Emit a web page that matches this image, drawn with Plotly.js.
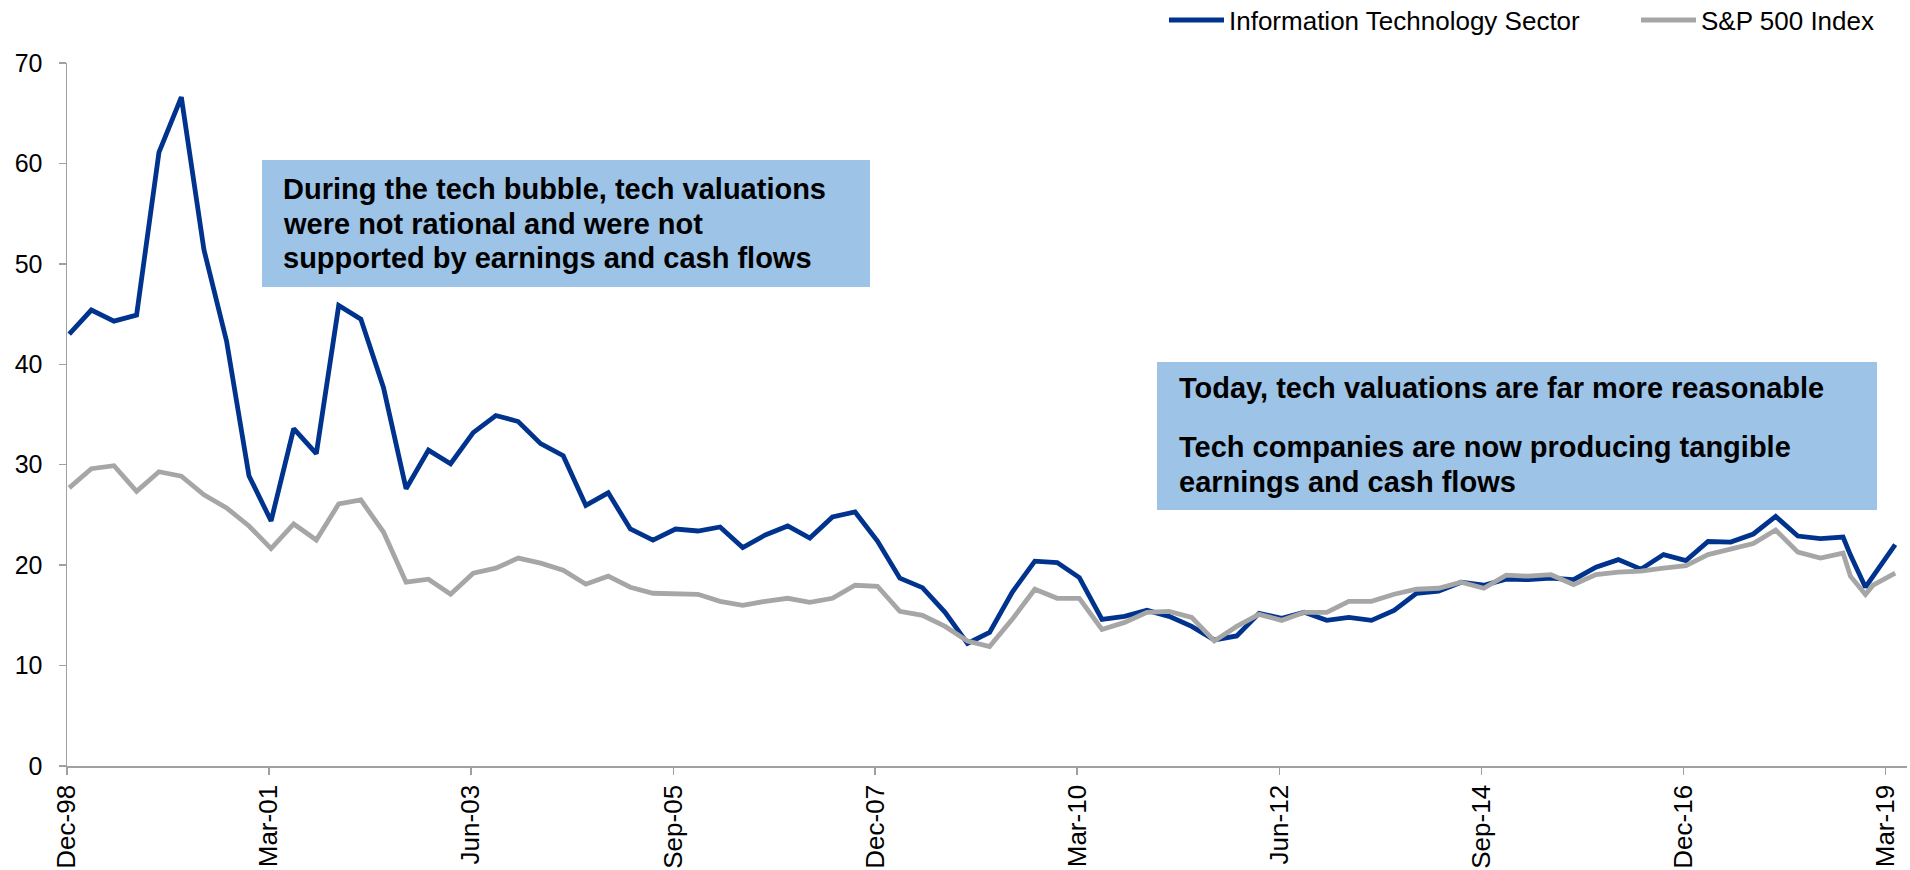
<!DOCTYPE html>
<html>
<head>
<meta charset="utf-8">
<script src="https://cdn.plot.ly/plotly-3.0.1.min.js"></script>
<style>
html, body { margin: 0; padding: 0; background: #ffffff; }
#chart { width: 1910px; height: 870px; }
</style>
</head>
<body>
<div id="chart"></div>
<script>
// ---------------- DATA ----------------
const seriesNames = ['Information Technology Sector', 'S&P 500 Index'];
const seriesColors = ['#00338D', '#A6A6A6'];

// Quarterly P/E readings, Dec-98 through Sep-18 (80 quarters)
const itQuarterly = [
  43.0, 45.4, 44.3, 44.9, 61.1, 66.6, 51.4, 42.3, 28.9, 24.4,
  33.6, 31.1, 45.85, 44.5, 37.7, 27.6, 31.45, 30.1, 33.2, 34.9,
  34.3, 32.1, 30.9, 25.95, 27.2, 23.6, 22.5, 23.6, 23.4, 23.8,
  21.75, 23.0, 23.9, 22.7, 24.8, 25.3, 22.4, 18.7, 17.76, 15.3,
  12.2, 13.3, 17.3, 20.4, 20.25, 18.76, 14.6, 14.9, 15.5, 14.9,
  13.9, 12.55, 12.95, 15.2, 14.7, 15.3, 14.5, 14.8, 14.5, 15.5,
  17.2, 17.4, 18.3, 18.0, 18.6, 18.55, 18.7, 18.55, 19.8, 20.55,
  19.6, 21.05, 20.45, 22.35, 22.3, 23.1, 24.85, 22.9, 22.65, 22.8
];
const spQuarterly = [
  27.7, 29.6, 29.9, 27.35, 29.3, 28.85, 27.0, 25.7, 23.9, 21.65,
  24.1, 22.5, 26.1, 26.5, 23.3, 18.3, 18.6, 17.1, 19.2, 19.7,
  20.7, 20.2, 19.5, 18.1, 18.9, 17.8, 17.2, 17.2, 17.1, 16.4,
  16.0, 16.4, 16.7, 16.3, 16.7, 18.0, 17.9, 15.4, 15.0, 13.9,
  12.45, 11.9, 14.6, 17.6, 16.7, 16.7, 13.6, 14.3, 15.3, 15.4,
  14.8, 12.45, 13.9, 15.1, 14.5, 15.3, 15.3, 16.4, 16.4, 17.1,
  17.6, 17.7, 18.3, 17.7, 19.0, 18.9, 19.05, 18.07, 19.06, 19.3,
  19.4, 19.7, 19.96, 21.05, 21.6, 22.15, 23.5, 21.3, 20.7, 21.2
];
const firstQuarter = { year: 1998, month: 12 };

// Monthly readings at the end of the period
const itTailMonths = ['2018-10', '2018-12', '2019-04'];
const itTail = [21.0, 17.8, 22.05];
const spTailMonths = ['2018-10', '2018-12', '2019-01', '2019-04'];
const spTail = [18.9, 17.07, 18.0, 19.2];

// Axis ticks
const tickMonths = ['1998-12', '2001-03', '2003-06', '2005-09', '2007-12',
                    '2010-03', '2012-06', '2014-09', '2016-12', '2019-03'];
const tickLabels = ['Dec-98', 'Mar-01', 'Jun-03', 'Sep-05', 'Dec-07',
                    'Mar-10', 'Jun-12', 'Sep-14', 'Dec-16', 'Mar-19'];

// Call-out texts
const box1Lines = [
  'During the tech bubble, tech valuations',
  'were not rational and were not',
  'supported by earnings and cash flows'
];
const box2Lines = [
  'Today, tech valuations are far more reasonable',
  'Tech companies are now producing tangible',
  'earnings and cash flows'
];

// ---------------- BUILD ----------------
function quarterDates(n) {
  const out = [];
  for (let i = 0; i < n; i++) {
    const m0 = (firstQuarter.month - 1) + 3 * i;
    const y = firstQuarter.year + Math.floor(m0 / 12);
    const m = (m0 % 12) + 1;
    out.push(y + '-' + String(m).padStart(2, '0') + '-10');
  }
  return out;
}
const qDates = quarterDates(itQuarterly.length);
const itX = qDates.concat(itTailMonths.map(d => d + '-10'));
const itY = itQuarterly.concat(itTail);
const spX = qDates.concat(spTailMonths.map(d => d + '-10'));
const spY = spQuarterly.concat(spTail);

const FONT = 'Liberation Sans, Arial, Helvetica, sans-serif';
const AXIS_COLOR = '#a0a0a0';
const LINE_W = 4.8;

const traces = [
  { x: itX, y: itY, type: 'scatter', mode: 'lines', name: seriesNames[0],
    line: { color: seriesColors[0], width: LINE_W } },
  { x: spX, y: spY, type: 'scatter', mode: 'lines', name: seriesNames[1],
    line: { color: seriesColors[1], width: LINE_W } }
];

// plot area in pixels
const L = 67, R = 1907, T = 63, B = 766;
const px2x = px => (px - L) / (R - L);
const px2y = py => (B - py) / (B - T);

const boxFill = '#9DC3E6';
const shapes = [
  { type: 'rect', xref: 'paper', yref: 'paper', x0: px2x(262), x1: px2x(870),
    y0: px2y(287), y1: px2y(160), fillcolor: boxFill, line: { width: 0 }, layer: 'above' },
  { type: 'rect', xref: 'paper', yref: 'paper', x0: px2x(1157), x1: px2x(1877),
    y0: px2y(510), y1: px2y(362), fillcolor: boxFill, line: { width: 0 }, layer: 'above' }
];

const boxFont = { family: FONT, size: 29, color: '#000000', weight: 'bold' };
const box1Centers = [189.3, 224, 258.3];
const box2Centers = [388.3, 446.7, 481.7];
const annotations = [];
box1Lines.forEach((t, i) => annotations.push({
  xref: 'paper', yref: 'paper', x: px2x(281), y: px2y(box1Centers[i]),
  xanchor: 'left', yanchor: 'middle', showarrow: false,
  text: '<b>' + t + '</b>', font: boxFont
}));
box2Lines.forEach((t, i) => annotations.push({
  xref: 'paper', yref: 'paper', x: px2x(1177), y: px2y(box2Centers[i]),
  xanchor: 'left', yanchor: 'middle', showarrow: false,
  text: '<b>' + t + '</b>', font: boxFont
}));

// legend (drawn as line keys + text labels)
const legendKeyStart = [1169, 1641];
const legendY = 20;
seriesNames.forEach((name, i) => {
  shapes.push({
    type: 'line', xref: 'paper', yref: 'paper',
    x0: px2x(legendKeyStart[i]), x1: px2x(legendKeyStart[i] + 55),
    y0: px2y(legendY), y1: px2y(legendY),
    line: { color: seriesColors[i], width: LINE_W }
  });
  annotations.push({
    xref: 'paper', yref: 'paper', x: px2x(legendKeyStart[i] + 58), y: px2y(legendY + 0.5),
    xanchor: 'left', yanchor: 'middle', showarrow: false,
    text: name, font: { family: FONT, size: 26, color: '#000000' }
  });
});

const layout = {
  width: 1910, height: 870,
  margin: { l: L, r: 1910 - R, t: T, b: 870 - B, pad: 0, autoexpand: false },
  paper_bgcolor: '#ffffff', plot_bgcolor: '#ffffff',
  font: { family: FONT, color: '#000000' },
  showlegend: false,
  xaxis: {
    type: 'date',
    range: ['1998-12-01', '2019-05-28'],
    tickmode: 'array',
    tickvals: tickMonths.map(d => d + '-01'),
    ticktext: tickLabels,
    tickangle: -90,
    ticks: 'outside', ticklen: 7, tickwidth: 1.5, tickcolor: AXIS_COLOR,
    showline: true, linecolor: AXIS_COLOR, linewidth: 1.5,
    showgrid: false, zeroline: false, automargin: false,
    tickfont: { family: FONT, size: 26, color: '#000000' }
  },
  yaxis: {
    range: [0, 70], tickmode: 'linear', tick0: 0, dtick: 10,
    ticks: 'outside', ticklen: 7, tickwidth: 1.5, tickcolor: AXIS_COLOR,
    showline: true, linecolor: AXIS_COLOR, linewidth: 1.5,
    showgrid: false, zeroline: false, automargin: false,
    ticklabelstandoff: 11,
    tickfont: { family: FONT, size: 25, color: '#000000' }
  },
  shapes: shapes,
  annotations: annotations
};

Plotly.newPlot('chart', traces, layout, { displayModeBar: false, staticPlot: true });
</script>
</body>
</html>
